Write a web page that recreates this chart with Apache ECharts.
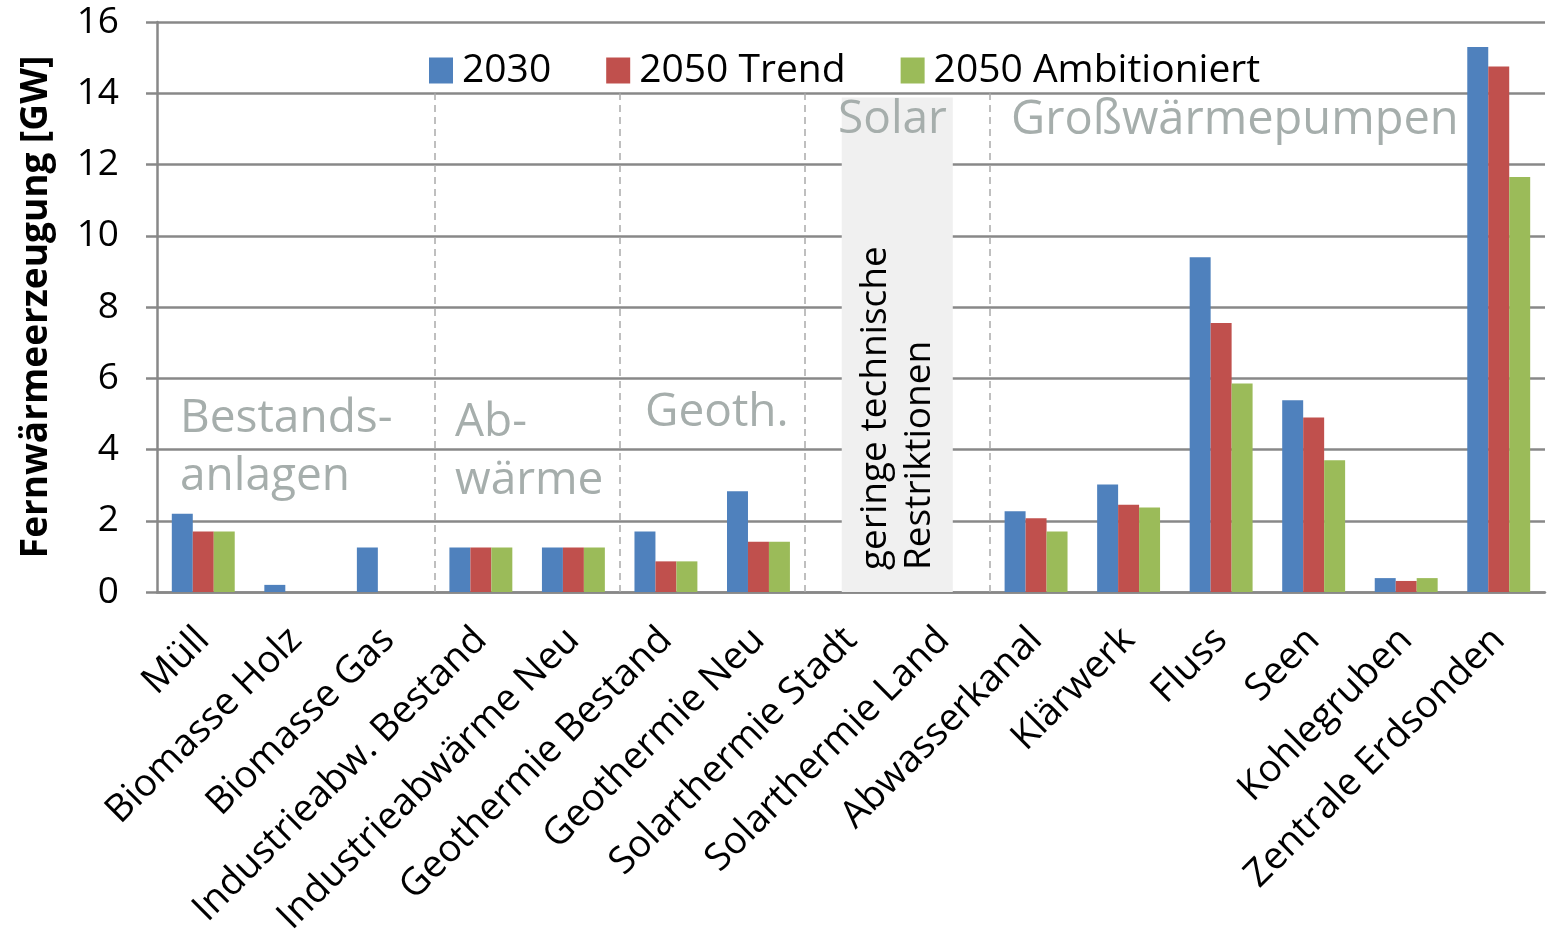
<!DOCTYPE html>
<html>
<head>
<meta charset="utf-8">
<script src="https://cdn.jsdelivr.net/npm/echarts@6/dist/echarts.min.js"></script>
<style>
  html, body { margin: 0; padding: 0; background: #fff; }
  #main { width: 1557px; height: 944px; }
</style>
</head>
<body>
<div id="main"></div>
<script>
// Kategorien und Werte (GW)
var categories = ['Müll', 'Biomasse Holz', 'Biomasse Gas', 'Industrieabw. Bestand', 'Industrieabwärme Neu',
    'Geothermie Bestand', 'Geothermie Neu', 'Solarthermie Stadt', 'Solarthermie Land', 'Abwasserkanal',
    'Klärwerk', 'Fluss', 'Seen', 'Kohlegruben', 'Zentrale Erdsonden'];
var v2030 = [2.2, 0.2, 1.25, 1.25, 1.25, 1.7, 2.83, 0, 0, 2.27, 3.02, 9.4, 5.38, 0.39, 15.3];
var vTrend = [1.7, 0, 0, 1.25, 1.25, 0.86, 1.41, 0, 0, 2.07, 2.45, 7.55, 4.9, 0.31, 14.75];
var vAmbit = [1.7, 0, 0, 1.25, 1.25, 0.86, 1.41, 0, 0, 1.7, 2.37, 5.85, 3.7, 0.39, 11.65];
var seriesNames = ['2030', '2050 Trend', '2050 Ambitioniert'];
var groupBorders = [3, 5, 7, 9];

var font = '"Open Sans", "Noto Sans", sans-serif';
var grey = '#a6aeac';
var chart = echarts.init(document.getElementById('main'));

function barSeries(name, data, color) {
    return {
        name: name,
        type: 'bar',
        data: data,
        barGap: 0,
        barCategoryGap: '32%',
        itemStyle: {color: color}
    };
}

chart.setOption({
    animation: false,
    textStyle: {fontFamily: font},
    grid: {left: 157, right: 12, top: 22, bottom: 352, outerBoundsMode: 'none', containLabel: false},
    legend: {
        data: seriesNames,
        left: 424, top: 46,
        itemWidth: 24, itemHeight: 26, itemGap: 55,
        icon: 'rect',
        textStyle: {fontSize: 39, color: '#000', fontFamily: font, padding: [0, 0, 0, 4]}
    },
    xAxis: [{
        type: 'category',
        data: categories,
        axisLine: {lineStyle: {color: '#888', width: 2.5}},
        axisTick: {length: 11, lineStyle: {color: '#888', width: 2.5}, interval: 0},
        axisLabel: {rotate: 45, interval: 0, fontSize: 38, color: '#000', margin: 42, fontFamily: font}
    }, {
        type: 'value', min: 0, max: 15, show: false
    }],
    yAxis: {
        type: 'value', min: 0, max: 16, interval: 2,
        name: 'Fernwärmeerzeugung [GW]',
        nameLocation: 'middle', nameGap: 102,
        nameTextStyle: {fontSize: 37, fontWeight: 'bold', color: '#000', fontFamily: font},
        axisLine: {show: true, lineStyle: {color: '#888', width: 2.5}},
        axisTick: {show: true, length: 11, lineStyle: {color: '#888', width: 2.5}},
        axisLabel: {fontSize: 37, color: '#000', margin: 38, fontFamily: font},
        splitLine: {lineStyle: {color: '#888', width: 2.5}}
    },
    series: [
        {
            type: 'line', xAxisIndex: 1, data: [], silent: true,
            markArea: {
                silent: true,
                itemStyle: {color: '#f0f0f0'},
                data: [[{coord: [7.4, 0]}, {coord: [8.6, 13.88]}]]
            },
            markLine: {
                silent: true, symbol: 'none',
                label: {show: false},
                lineStyle: {color: '#aaa', type: [7, 5], width: 1.5},
                data: groupBorders.map(function (b) {
                    return [{coord: [b, 0]}, {coord: [b, 14]}];
                })
            }
        },
        barSeries(seriesNames[0], v2030, '#4f81bd'),
        barSeries(seriesNames[1], vTrend, '#c0504d'),
        barSeries(seriesNames[2], vAmbit, '#9bbb59')
    ],
    graphic: [
        {type: 'text', z: 100, left: 180, top: 390, style: {text: 'Bestands-\nanlagen', fontSize: 46, lineHeight: 58, fill: grey, fontFamily: font}},
        {type: 'text', z: 100, left: 455, top: 394, style: {text: 'Ab-\nwärme', fontSize: 46, lineHeight: 58, fill: grey, fontFamily: font}},
        {type: 'text', z: 100, left: 645, top: 390, style: {text: 'Geoth.', fontSize: 46, fill: grey, fontFamily: font}},
        {type: 'text', z: 100, left: 838, top: 97, style: {text: 'Solar', fontSize: 46, fill: grey, fontFamily: font}},
        {type: 'text', z: 100, left: 1011, top: 97, style: {text: 'Großwärmepumpen', fontSize: 47, fill: grey, fontFamily: font}},
        {type: 'text', z: 100, x: 853, y: 570, rotation: Math.PI / 2,
            style: {text: 'geringe technische\nRestriktionen', fontSize: 37, lineHeight: 44, fill: '#000', fontFamily: font, align: 'left', verticalAlign: 'top'}}
    ]
});
</script>
</body>
</html>
